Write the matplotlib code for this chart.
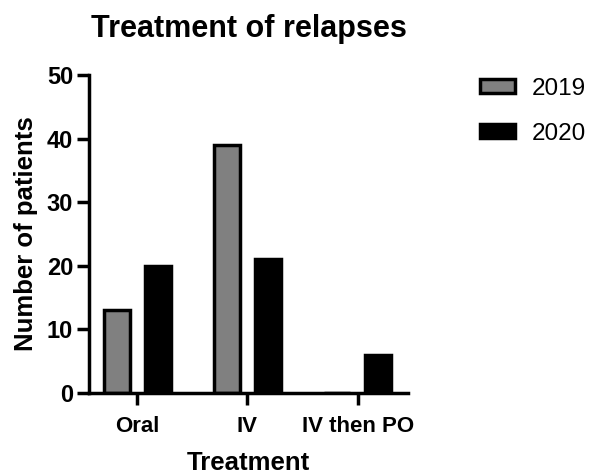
import numpy as np
import matplotlib
matplotlib.use("Agg")
import matplotlib.pyplot as plt

categories = ["Oral", "IV", "IV then PO"]
series_names = ["2019", "2020"]
values_2019 = [13, 39, 0]
values_2020 = [20, 21, 6]

plt.rcParams["font.family"] = ["Liberation Sans", "DejaVu Sans"]

fig = plt.figure(figsize=(5.9, 4.74), dpi=100)
ax = fig.add_axes([0.151, 0.171, 0.541, 0.671])

x = np.arange(len(categories))
w = 0.236
off = 0.186
ax.bar(x - off, values_2019, width=w, color="#808080", edgecolor="black",
       linewidth=2.5, label=series_names[0], zorder=2)
ax.bar(x + off, values_2020, width=w, color="black", edgecolor="black",
       linewidth=2.5, label=series_names[1], zorder=2)

ax.set_xlim(-0.436, 2.46)
ax.set_ylim(0, 50)
ax.set_yticks([0, 10, 20, 30, 40, 50])
ax.set_xticks(x)
ax.set_xticklabels(categories, fontweight="bold", fontsize=16)
for lab in ax.get_yticklabels():
    lab.set_fontweight("bold")
    lab.set_fontsize(17)

for s in ["top", "right"]:
    ax.spines[s].set_visible(False)
for s in ["left", "bottom"]:
    ax.spines[s].set_linewidth(2.5)
ax.tick_params(axis="both", width=2.5, length=8.5, pad=3)
ax.tick_params(axis="x", pad=8)

ax.set_xlabel("Treatment", fontweight="bold", fontsize=18.5, labelpad=10.5)
ax.set_ylabel("Number of patients", fontweight="bold", fontsize=18.5, labelpad=6)
ax.set_title("Treatment of relapses", fontweight="bold", fontsize=22, pad=27)

leg = ax.legend(loc="upper left", bbox_to_anchor=(1.155, 1.06), frameon=False,
                fontsize=17.5, handlelength=1.45, handleheight=0.55,
                handletextpad=0.7, labelspacing=0.95)

fig.savefig("out.png", dpi=100)
